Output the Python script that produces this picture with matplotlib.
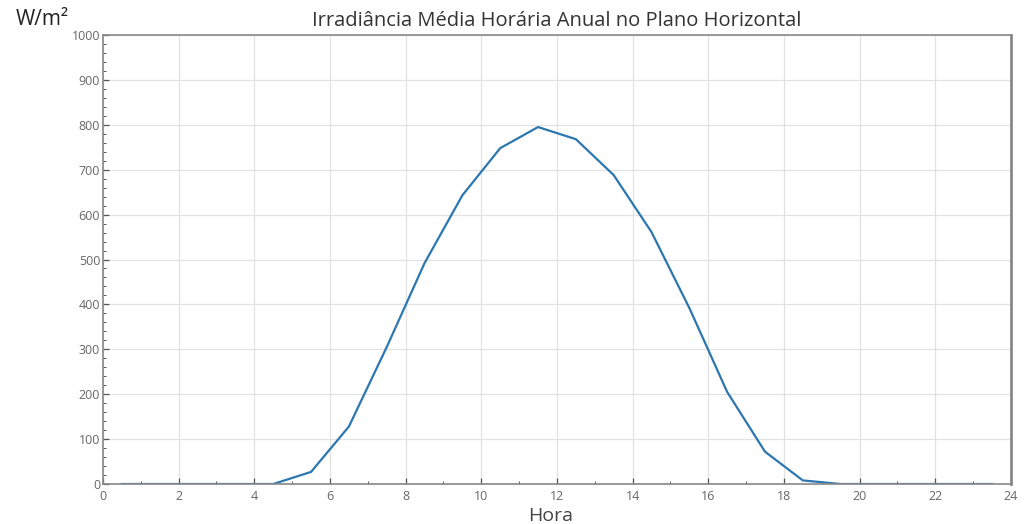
#!/usr/bin/env python3
"""Irradiância média horária anual no plano horizontal (W/m² por hora do dia)."""

import matplotlib

matplotlib.use("Agg")
import matplotlib.pyplot as plt
from matplotlib.ticker import MultipleLocator

# Horas (meio de cada intervalo horário) e irradiância
HORAS = [0.5, 1.5, 2.5, 3.5, 4.5, 5.5, 6.5, 7.5, 8.5, 9.5, 10.5, 11.5,
         12.5, 13.5, 14.5, 15.5, 16.5, 17.5, 18.5, 19.5, 20.5, 21.5, 22.5, 23.5]
IRRADIANCIA = [0, 0, 0, 0, 0, 27, 128, 305, 492, 643, 748, 795,
               768, 688, 561, 392, 205, 72, 8, 0, 0, 0, 0, 0]

TITULO = "Irradiância Média Horária Anual no Plano Horizontal"
ROTULO_X = "Hora"
ROTULO_Y = "W/m²"

plt.rcParams["font.family"] = ["Open Sans", "DejaVu Sans"]

fig = plt.figure(figsize=(10.24, 5.24), dpi=100)
# eixo: 103..1011 px na horizontal, 35..484 px na vertical
ax = fig.add_axes((0.1006, 0.0763, 0.8866, 0.8569))

ax.plot(HORAS, IRRADIANCIA, color="#2c77b0", lw=1.6)

ax.set_xlim(0, 24)
ax.set_ylim(0, 1000)
ax.xaxis.set_major_locator(MultipleLocator(2))
ax.xaxis.set_minor_locator(MultipleLocator(1))
ax.yaxis.set_major_locator(MultipleLocator(100))
ax.yaxis.set_minor_locator(MultipleLocator(20))
ax.tick_params(which="both", direction="in", colors="#555555", labelsize=9,
               labelcolor="#666666")
ax.tick_params(which="major", length=4, width=0.9)
ax.tick_params(which="minor", length=2, width=0.7)
ax.tick_params(axis="x", pad=4)
ax.tick_params(axis="y", pad=2)
ax.grid(True, which="major", color="#e2e2e2", lw=0.9)
ax.set_axisbelow(True)
for side, sp in ax.spines.items():
    sp.set_color("#888888")
    sp.set_linewidth(1.2)
ax.spines["right"].set_linewidth(2.0)

# o original está esticado na horizontal; tamanhos de fonte são um meio-termo
fig.text(0.544, 0.959, TITULO, fontsize=14.5, color="#333333", ha="center", va="center")
fig.text(0.041, 0.963, ROTULO_Y, fontsize=15, color="#222222", ha="center", va="center")
fig.text(0.538, 0.015, ROTULO_X, fontsize=14, color="#444444", ha="center", va="center")

fig.savefig("out.png", dpi=100)
